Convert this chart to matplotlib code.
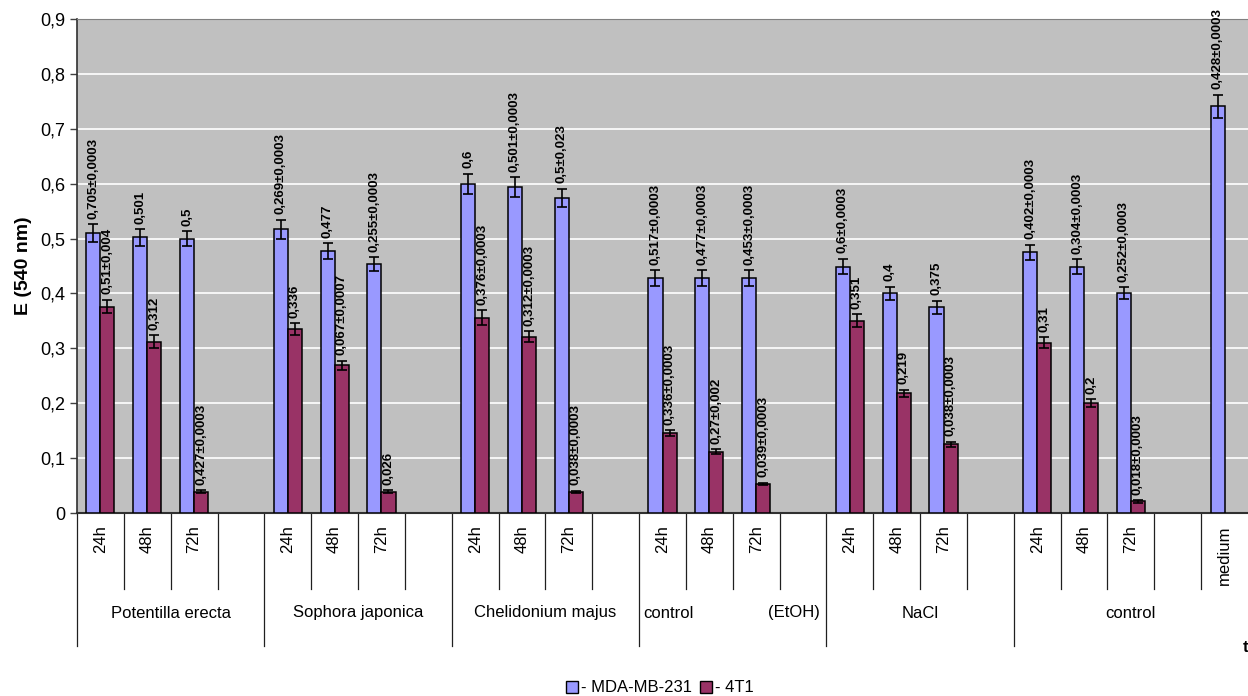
import numpy as np
import matplotlib
matplotlib.use('Agg')
import matplotlib.pyplot as plt
from matplotlib.patches import Patch

plt.rcParams['font.family'] = ['Liberation Sans', 'DejaVu Sans']

# data
groups = ["Potentilla erecta", "Sophora japonica", "Chelidonium majus",
          "control (EtOH)", "NaCl", "control"]
times = ["24h", "48h", "72h"]

mda = [[0.510, 0.502, 0.500], [0.517, 0.477, 0.453], [0.600, 0.594, 0.574],
       [0.428, 0.428, 0.428], [0.449, 0.400, 0.375], [0.475, 0.449, 0.400]]
mda_err = [[0.016, 0.015, 0.013], [0.017, 0.014, 0.013], [0.018, 0.018, 0.017],
           [0.014, 0.014, 0.014], [0.014, 0.012, 0.012], [0.014, 0.013, 0.011]]
mda_lbl = [["0,705±0,0003", "0,501", "0,5"],
           ["0,269±0,0003", "0,477", "0,255±0,0003"],
           ["0,6", "0,501±0,0003", "0,5±0,023"],
           ["0,517±0,0003", "0,477±0,0003", "0,453±0,0003"],
           ["0,6±0,0003", "0,4", "0,375"],
           ["0,402±0,0003", "0,304±0,0003", "0,252±0,0003"]]

t41 = [[0.376, 0.312, 0.039], [0.335, 0.269, 0.039], [0.356, 0.321, 0.038],
       [0.146, 0.112, 0.053], [0.350, 0.218, 0.125], [0.310, 0.200, 0.021]]
t41_err = [[0.012, 0.012, 0.002], [0.011, 0.008, 0.002], [0.013, 0.010, 0.002],
           [0.005, 0.004, 0.002], [0.012, 0.007, 0.005], [0.010, 0.007, 0.002]]
t41_lbl = [["0,51±0,004", "0,312", "0,427±0,0003"],
           ["0,336", "0,067±0,0007", "0,026"],
           ["0,376±0,0003", "0,312±0,0003", "0,038±0,0003"],
           ["0,336±0,0003", "0,27±0,002", "0,039±0,0003"],
           ["0,351", "0,219", "0,038±0,0003"],
           ["0,31", "0,2", "0,018±0,0003"]]

medium_val = 0.741
medium_err = 0.021
medium_lbl = "0,428±0,0003"

blue = '#9999FF'
red = '#993366'

fig = plt.figure(figsize=(12.48, 6.96), dpi=100)
ax = fig.add_axes([77/1248, 183/696, 1171/1248, 494/696])
ax.set_facecolor('#C0C0C0')

# slot layout: each group = 3 times + 1 blank slot, then a "medium" slot
xs, xl, bv, be, bl, rv, re, rl = [], [], [], [], [], [], [], []
for g in range(len(groups)):
    for t in range(3):
        xs.append(g * 4 + t + 0.5)
        xl.append(times[t])
        bv.append(mda[g][t]); be.append(mda_err[g][t]); bl.append(mda_lbl[g][t])
        rv.append(t41[g][t]); re.append(t41_err[g][t]); rl.append(t41_lbl[g][t])
xr = list(xs)
nslots = len(groups) * 4 + 1
xs.append(nslots - 0.5)
xl.append("medium")
bv.append(medium_val); be.append(medium_err); bl.append(medium_lbl)

xs = np.array(xs)
xr = np.array(xr)
w = 0.3
ekw = dict(elinewidth=1.2, capthick=1.2, ecolor='black')
ax.bar(xs - w/2, bv, w, color=blue, edgecolor='black', linewidth=1.1,
       yerr=be, capsize=3.5, error_kw=ekw, zorder=3)
ax.bar(xr + w/2, rv, w, color=red, edgecolor='black', linewidth=1.1,
       yerr=re, capsize=3.5, error_kw=ekw, zorder=3)

for x, v, e, s in zip(xs - w/2, bv, be, bl):
    ax.annotate(s, (x, v + e), xytext=(0, 4), textcoords='offset points',
                rotation=90, ha='center', va='bottom', fontsize=9.5,
                fontweight='bold', zorder=5, annotation_clip=False)
for x, v, e, s in zip(xr + w/2, rv, re, rl):
    ax.annotate(s, (x, v + e), xytext=(0, 4), textcoords='offset points',
                rotation=90, ha='center', va='bottom', fontsize=9.5,
                fontweight='bold', zorder=5, annotation_clip=False)

ax.set_xlim(0, nslots)
ax.set_ylim(0, 0.9)
yt = np.arange(0, 0.91, 0.1)
ax.set_yticks(yt)
ax.set_yticklabels(['0'] + [('%.1f' % v).replace('.', ',') for v in yt[1:]],
                   fontsize=13)
ax.yaxis.grid(True, color='white', linewidth=1.2, zorder=0)
ax.set_axisbelow(True)
ax.tick_params(axis='y', length=5, width=1, color='#404040')
ax.set_ylabel('E (540 nm)', fontsize=14, fontweight='bold', labelpad=6)

ax.set_xticks(xs)
ax.set_xticklabels(xl, rotation=90, fontsize=12)
ax.tick_params(axis='x', length=0, pad=9)

ax.spines['right'].set_visible(False)
ax.spines['top'].set_color('#808080')
ax.spines['left'].set_color('#303030')
ax.spines['bottom'].set_color('#303030')
ax.spines['bottom'].set_linewidth(1.5)
ax.spines['left'].set_linewidth(1.2)

# category axis divider lines
trans = ax.get_xaxis_transform()
short = -(589 - 513) / 494
long_ = -(646 - 513) / 494
for k in range(nslots):
    y1 = long_ if (k % 4 == 0 and k < len(groups) * 4) else short
    ax.plot([k, k], [0, y1], transform=trans, color='#202020', lw=0.9,
            clip_on=False)

# group labels
ylab = -(613 - 513) / 494
for g, name in enumerate(groups):
    if g == len(groups) - 1:
        cx = (g * 4 + nslots) / 2
    else:
        cx = g * 4 + 2
    if name == "control (EtOH)":
        a, b = name.split(' ')
        ax.text(g * 4 + 0.08, ylab, a, transform=trans, ha='left',
                va='center', fontsize=12)
        ax.text(g * 4 + 3.85, ylab, b, transform=trans, ha='right',
                va='center', fontsize=12)
    else:
        ax.text(cx, ylab, name, transform=trans, ha='center', va='center',
                fontsize=12)

fig.text(1.0, 1 - 648/696, 't', ha='right', va='center', fontsize=12,
         fontweight='bold')

handles = [Patch(facecolor=blue, edgecolor='black'),
           Patch(facecolor=red, edgecolor='black')]
fig.legend(handles, ['- MDA-MB-231', '- 4T1'], loc='center',
           bbox_to_anchor=(660/1248, 1 - 688/696), ncol=2, frameon=False,
           fontsize=12, handlelength=0.7, handleheight=0.7,
           handletextpad=0.2, columnspacing=0.5)

fig.savefig('out.png', dpi=100)
